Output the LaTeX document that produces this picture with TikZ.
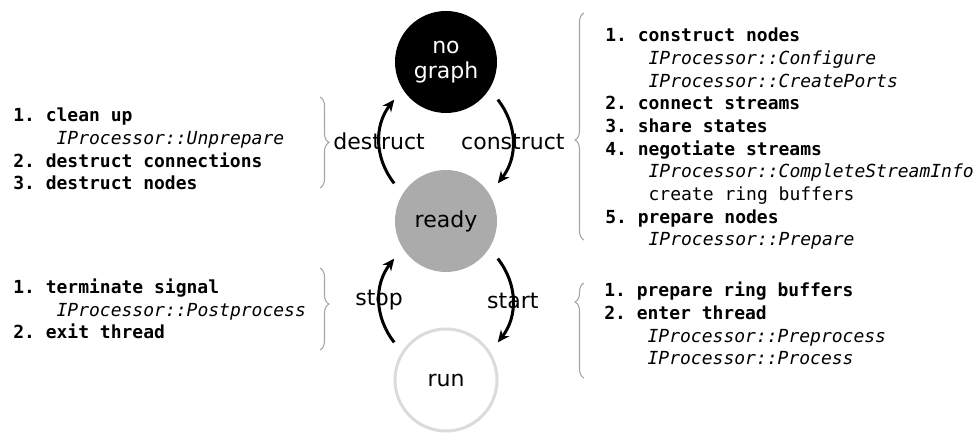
\documentclass[tikz,border=0pt]{standalone}
\usepackage{fontspec}
\setmainfont{DejaVu Sans}
\newfontfamily\listfont{DejaVu Sans Mono}
\usepackage{tikz}
\usetikzlibrary{arrows.meta,decorations.pathreplacing}

\tikzset{
  state/.style={circle, minimum size=76.5pt, inner sep=0pt, outer sep=9.75pt,
    font=\fontsize{16.5}{19}\selectfont},
  trans/.style={line width=2.25pt, -{Stealth[length=9pt,width=8pt]}},
  translabel/.style={font=\fontsize{16.5}{19}\selectfont},
  steplist/.style={anchor=base west, align=left, inner sep=0pt,
    font=\listfont\frenchspacing\fontsize{13.5}{17}\selectfont},
  bracket/.style={decorate, draw=black!35, line width=0.8pt,
    decoration={brace, amplitude=6.75pt, aspect=#1}},
}
\newcommand{\ind}{\hspace*{2.41em}}

\begin{document}
\begin{tikzpicture}[x=0.75pt, y=0.75pt]
    \useasboundingbox (0,0) rectangle (976,435);
    % States
    \node[state, fill=black, text=white, align=center] (nograph) at (446,373) {no\\graph};
    \node[state, fill=black!33] (ready) at (446,214) {ready};
    \node[state, draw=black!14, line width=2.25pt] (run) at (446,55) {run};
    % Transitions
    \draw[trans] (ready.144) to[out=128, in=232] node[translabel] {destruct} (nograph.216);
    \draw[trans] (nograph.324) to[out=-52, in=52] node[translabel] {construct} (ready.36);
    \draw[trans] (run.144) to[out=128, in=232] node[translabel] {stop} (ready.216);
    \draw[trans] (ready.324) to[out=-52, in=52] node[translabel] {start} (run.36);
    % Steps of each transition (anchored at the last line)
    \node[steplist] (destructsteps) at (13,245) {\textbf{1. clean up}\\
        \ind\textit{IProcessor::Unprepare}\\
        \textbf{2. destruct connections}\\
        \textbf{3. destruct nodes}};
    \node[steplist] (constructsteps) at (605,189) {\textbf{1. construct nodes}\\
        \ind\textit{IProcessor::Configure}\\
        \ind\textit{IProcessor::CreatePorts}\\
        \textbf{2. connect streams}\\
        \textbf{3. share states}\\
        \textbf{4. negotiate streams}\\
        \ind\textit{IProcessor::CompleteStreamInfo}\\
        \ind create ring buffers\\
        \textbf{5. prepare nodes}\\
        \ind\textit{IProcessor::Prepare}};
    \node[steplist] (stopsteps) at (13,96) {\textbf{1. terminate signal}\\
        \ind\textit{IProcessor::Postprocess}\\
        \textbf{2. exit thread}};
    \node[steplist] (startsteps) at (604,70) {\textbf{1. prepare ring buffers}\\
        \textbf{2. enter thread}\\
        \ind\textit{IProcessor::Preprocess}\\
        \ind\textit{IProcessor::Process}};
    % Braces
    \draw[bracket=0.5] (320,338) -- (320,247);
    \draw[bracket=0.44] (320,167) -- (320,85);
    \draw[bracket=0.44] (584,195) -- (584,422);
    \draw[bracket=0.8] (584,57) -- (584,152);
\end{tikzpicture}
\end{document}
